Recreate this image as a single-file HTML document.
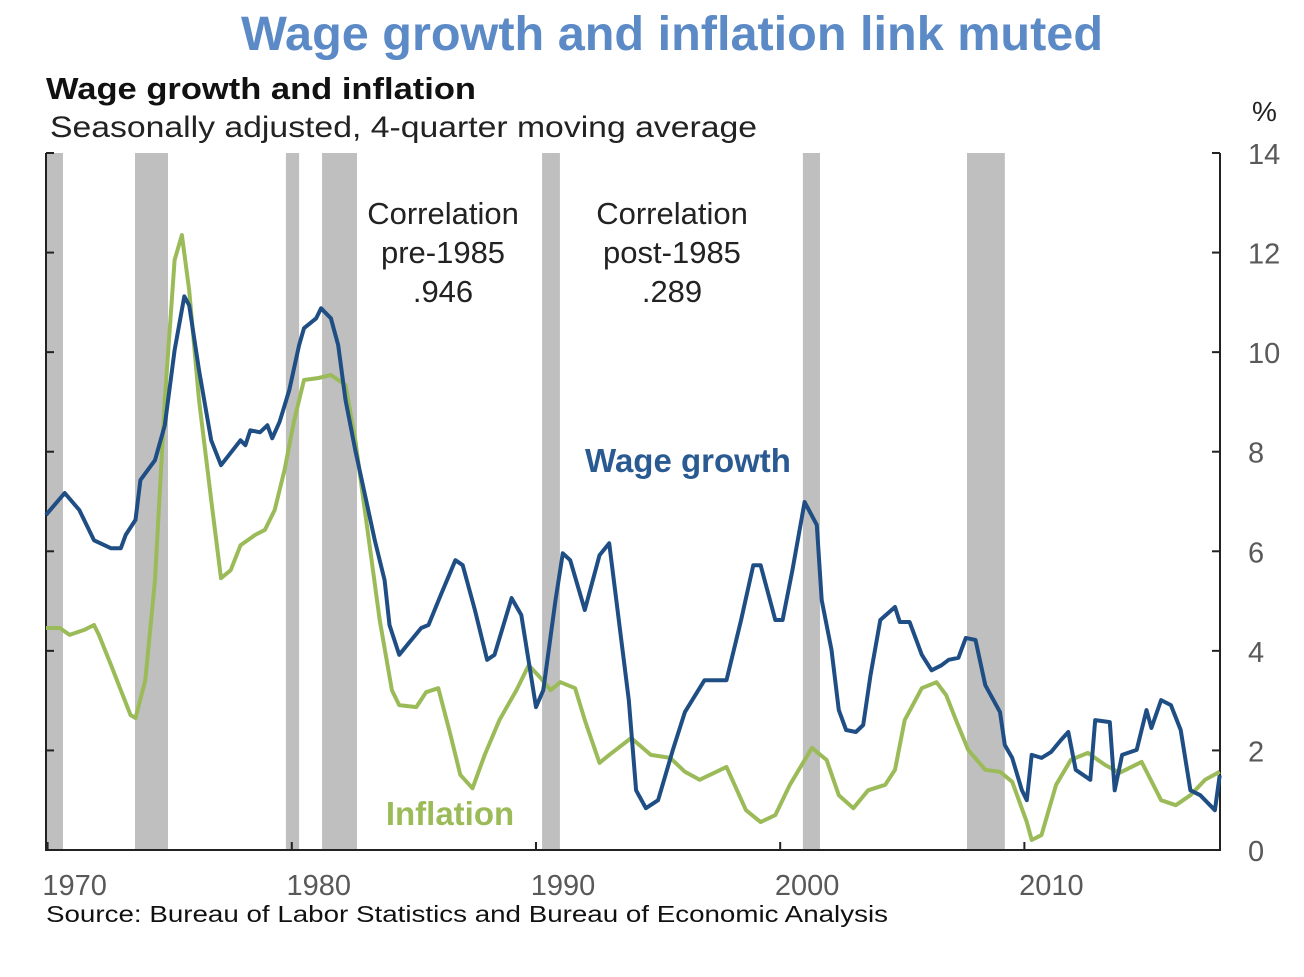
<!DOCTYPE html>
<html><head><meta charset="utf-8"><style>
html,body{margin:0;padding:0;background:#fff;}
body{width:1304px;height:972px;overflow:hidden;font-family:"Liberation Sans",sans-serif;}
svg text{font-family:"Liberation Sans",sans-serif;}
</style></head><body>
<svg id="chart" width="1304" height="972" xmlns="http://www.w3.org/2000/svg">
<text x="241" y="50" textLength="862" lengthAdjust="spacingAndGlyphs" font-size="48" font-weight="bold" fill="#5b8ac6">Wage growth and inflation link muted</text>
<text x="46" y="99" textLength="430" lengthAdjust="spacingAndGlyphs" font-size="31" font-weight="bold" fill="#111">Wage growth and inflation</text>
<text x="50" y="137" textLength="707" lengthAdjust="spacingAndGlyphs" font-size="30" fill="#222">Seasonally adjusted, 4-quarter  moving  average</text>
<text x="1252" y="121" font-size="28" fill="#222">%</text>
<g id="rec"></g><g id="axes"></g><g id="lines"></g>
<g font-size="31" fill="#222" text-anchor="middle">
<text x="443" y="224">Correlation</text><text x="443" y="263">pre-1985</text><text x="443" y="302">.946</text></g>
<g font-size="31" fill="#222" text-anchor="middle">
<text x="672" y="224">Correlation</text><text x="672" y="263">post-1985</text><text x="672" y="302">.289</text></g>
<text x="688" y="472" text-anchor="middle" font-size="33" font-weight="bold" fill="#2a5a92">Wage growth</text>
<text x="450" y="825" text-anchor="middle" font-size="33" font-weight="bold" fill="#9bbb59">Inflation</text>
<text x="46" y="922" textLength="842" lengthAdjust="spacingAndGlyphs" font-size="23" fill="#111">Source: Bureau of Labor Statistics and Bureau of Economic  Analysis</text>
</svg>
<script>
const recessions=[[1969.93,1970.63],[1973.58,1974.93],[1979.76,1980.3],[1981.24,1982.67],[1990.25,1990.98],[2000.93,2001.63],[2007.65,2009.2]];
const yTicks=[0,2,4,6,8,10,12,14];
const xTicks=[1970,1980,1990,2000,2010];
const wageYears=[1969.93,1970.7,1971.3,1971.9,1972.6,1973.0,1973.2,1973.6,1973.8,1974.4,1974.8,1975.2,1975.6,1975.8,1976.2,1976.7,1977.1,1977.9,1978.1,1978.3,1978.7,1979.0,1979.2,1979.5,1979.9,1980.3,1980.5,1981.0,1981.2,1981.6,1981.9,1982.2,1982.6,1983.0,1983.4,1983.8,1984.0,1984.4,1984.9,1985.3,1985.6,1986.1,1986.7,1987.0,1987.5,1988.0,1988.3,1989.0,1989.4,1990.0,1990.3,1990.8,1991.1,1991.4,1992.0,1992.6,1993.0,1993.8,1994.1,1994.5,1995.0,1995.6,1996.1,1996.9,1997.8,1998.4,1998.9,1999.2,1999.8,2000.1,2000.5,2001.0,2001.5,2001.7,2002.1,2002.4,2002.7,2003.1,2003.4,2003.7,2004.1,2004.7,2004.9,2005.3,2005.8,2006.2,2006.6,2006.9,2007.3,2007.6,2008.0,2008.4,2009.0,2009.2,2009.5,2009.9,2010.1,2010.3,2010.7,2011.1,2011.5,2011.8,2012.1,2012.7,2012.9,2013.5,2013.7,2014.0,2014.6,2015.0,2015.2,2015.6,2016.0,2016.4,2016.8,2017.2,2017.8,2018.0];
const wageValues=[6.73,7.17,6.83,6.22,6.06,6.06,6.33,6.63,7.43,7.83,8.53,10.04,11.12,10.94,9.64,8.23,7.73,8.23,8.13,8.43,8.39,8.53,8.27,8.6,9.24,10.14,10.48,10.68,10.88,10.68,10.14,9.04,8.03,7.13,6.22,5.42,4.52,3.92,4.22,4.46,4.52,5.12,5.82,5.72,4.82,3.82,3.92,5.06,4.72,2.87,3.21,5.02,5.96,5.82,4.82,5.92,6.16,3.01,1.2,0.84,1.0,2.0,2.77,3.41,3.41,4.62,5.72,5.72,4.62,4.62,5.62,6.99,6.53,5.02,4.02,2.81,2.41,2.37,2.51,3.51,4.62,4.88,4.58,4.58,3.92,3.61,3.71,3.82,3.86,4.26,4.22,3.31,2.77,2.11,1.85,1.2,1.0,1.91,1.85,1.97,2.21,2.37,1.61,1.41,2.61,2.57,1.2,1.91,2.01,2.81,2.45,3.01,2.91,2.41,1.2,1.1,0.8,1.5];
const inflYears=[1969.93,1970.5,1970.9,1971.5,1971.9,1972.1,1972.6,1973.0,1973.4,1973.6,1974.0,1974.4,1974.8,1975.2,1975.5,1975.8,1976.2,1976.7,1977.1,1977.5,1977.9,1978.5,1978.9,1979.3,1979.7,1980.1,1980.5,1981.1,1981.6,1981.9,1982.2,1982.6,1983.1,1983.6,1984.1,1984.4,1985.1,1985.5,1986.0,1986.5,1986.9,1987.4,1987.9,1988.5,1989.2,1989.7,1990.2,1990.6,1991.0,1991.6,1992.0,1992.6,1993.0,1993.9,1994.7,1995.5,1996.1,1996.7,1997.8,1998.6,1999.2,1999.8,2000.4,2001.3,2001.9,2002.4,2003.0,2003.6,2004.3,2004.7,2005.1,2005.8,2006.4,2006.8,2007.2,2007.7,2008.4,2009.0,2009.5,2010.1,2010.3,2010.7,2011.3,2011.9,2012.6,2013.3,2013.9,2014.8,2015.6,2016.2,2016.8,2017.4,2018.0];
const inflValues=[4.46,4.46,4.32,4.42,4.52,4.32,3.71,3.21,2.71,2.65,3.41,5.42,9.04,11.85,12.35,11.24,9.04,7.03,5.46,5.62,6.12,6.33,6.43,6.83,7.63,8.63,9.44,9.48,9.54,9.44,9.34,8.23,6.43,4.62,3.21,2.91,2.87,3.17,3.25,2.31,1.51,1.24,1.91,2.61,3.21,3.71,3.45,3.21,3.37,3.25,2.61,1.75,1.91,2.25,1.91,1.85,1.57,1.41,1.67,0.8,0.56,0.7,1.31,2.05,1.81,1.1,0.84,1.2,1.31,1.61,2.61,3.25,3.37,3.11,2.61,2.01,1.61,1.57,1.37,0.56,0.2,0.3,1.31,1.81,1.95,1.71,1.55,1.77,1.0,0.9,1.1,1.41,1.57];
const X0=46,X1=1220,Y0=850,Y1=153;
const xs=y=>47.58+(y-1970)*24.42;
const ys=v=>Y0-(v/14)*(Y0-Y1);
const NS='http://www.w3.org/2000/svg';
function mk(t,p){const e=document.createElementNS(NS,t);for(const k in p)e.setAttribute(k,p[k]);p0.appendChild(e);return e;}
let p0=document.getElementById('rec');
recessions.forEach(r=>{const a=Math.max(xs(r[0]),X0);const e=mk('rect',{x:a,y:Y1,width:xs(r[1])-a,height:Y0-Y1,fill:'#bfbfbf'});

});
p0=document.getElementById('axes');
let e=mk('path',{d:`M${X0} ${Y1}V${Y0}H${X1}V${Y1}`,fill:'none',stroke:'#222','stroke-width':2});


yTicks.forEach(v=>{const y=ys(v);
mk('line',{x1:X0,x2:X0+8,y1:y,y2:y,stroke:'#222','stroke-width':2});
mk('line',{x1:X1-8,x2:X1,y1:y,y2:y,stroke:'#222','stroke-width':2});
const t=mk('text',{x:1248,y:y+11,'font-size':29,fill:'#595959'});t.textContent=v;

});
xTicks.forEach(v=>{const x=xs(v);
mk('line',{x1:x,x2:x,y1:Y0,y2:Y0-8,stroke:'#222','stroke-width':2});
const t=mk('text',{x:x+27,y:895,'font-size':29,fill:'#595959','text-anchor':'middle'});t.textContent=v;

});
p0=document.getElementById('lines');
function line(yr,vals,col,name){const d=yr.map((y,i)=>(i?'L':'M')+Math.max(xs(y),X0).toFixed(1)+' '+ys(vals[i]).toFixed(1)).join('');
const l=mk('path',{d:d,fill:'none',stroke:col,'stroke-width':4,'stroke-linejoin':'round'});

}
line(inflYears,inflValues,'#9bbb59','inflation-line');
line(wageYears,wageValues,'#1f4e85','wage-growth-line');
</script>
</body></html>
